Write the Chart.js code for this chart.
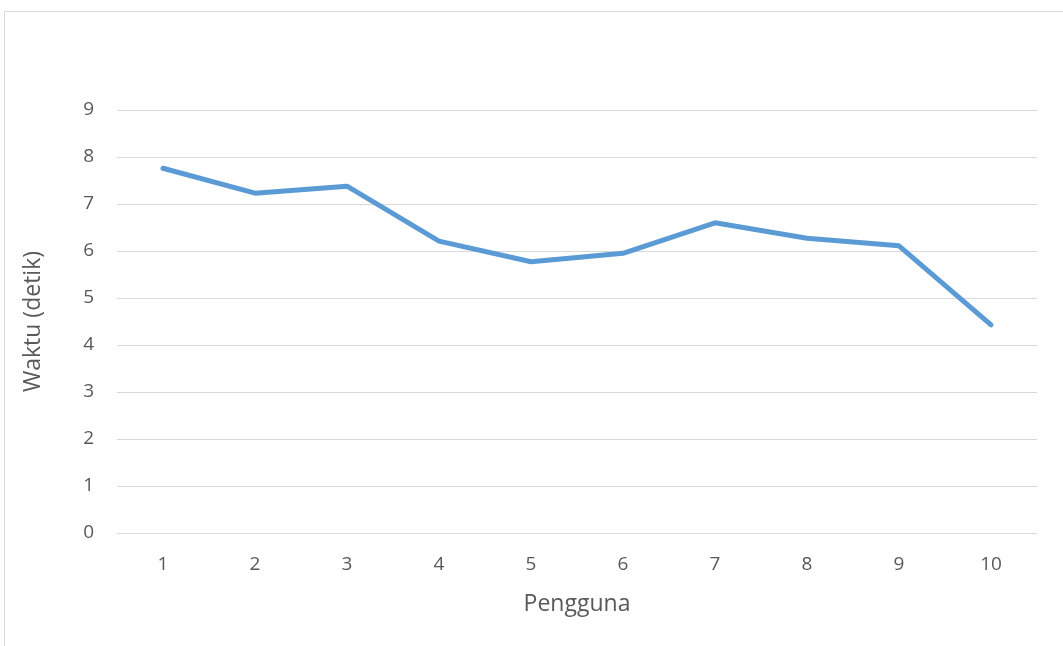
<!DOCTYPE html>
<html>
<head>
<meta charset="utf-8">
<script src="https://cdn.jsdelivr.net/npm/chart.js@4/dist/chart.umd.min.js"></script>
<style>
  html, body { margin: 0; padding: 0; background: #fff; }
  #chart { display: block; }
</style>
</head>
<body>
<canvas id="chart" width="1063" height="646"></canvas>
<script>
const categories = ["1", "2", "3", "4", "5", "6", "7", "8", "9", "10"];
const waktu = [7.76, 7.23, 7.38, 6.21, 5.77, 5.95, 6.60, 6.27, 6.11, 4.43];
const yTicks = [0, 1, 2, 3, 4, 5, 6, 7, 8, 9];

const textColor = "#595959";
const gridColor = "#d9d9d9";
const fontFamily = "'Open Sans', 'Noto Sans', sans-serif";

// outer chart frame, like the Excel chart area border
const frame = {
  id: "frame",
  beforeDraw(chart) {
    const ctx = chart.ctx;
    ctx.save();
    ctx.fillStyle = "#fff";
    ctx.fillRect(0, 0, chart.width, chart.height);
    ctx.strokeStyle = gridColor;
    ctx.lineWidth = 1;
    ctx.strokeRect(4.5, 11.5, chart.width + 20, chart.height + 20);
    ctx.restore();
  },
};

const ctx = document.getElementById("chart").getContext("2d");

new Chart(ctx, {
  type: "line",
  data: {
    labels: categories,
    datasets: [
      {
        label: "Waktu",
        data: waktu,
        borderColor: "#5b9bd5",
        backgroundColor: "#5b9bd5",
        borderWidth: 5,
        borderCapStyle: "round",
        borderJoinStyle: "round",
        pointRadius: 0,
        tension: 0,
      },
    ],
  },
  options: {
    responsive: false,
    animation: false,
    layout: { padding: { top: 110, right: 26, left: 0, bottom: 0 } },
    plugins: {
      legend: { display: false },
      tooltip: { enabled: false },
    },
    scales: {
      x: {
        offset: true,
        grid: { display: false },
        border: { display: false },
        ticks: {
          autoSkip: false,
          maxRotation: 0,
          padding: 12,
          color: textColor,
          font: { family: fontFamily, size: 19 },
        },
        title: {
          display: true,
          text: "Pengguna",
          color: textColor,
          padding: { top: 0, bottom: 28 },
          font: { family: fontFamily, size: 23 },
        },
        afterFit: (scale) => {
          scale.height = 113;
        },
      },
      y: {
        min: 0,
        max: 9,
        afterBuildTicks: (scale) => {
          scale.ticks = yTicks.map((v) => ({ value: v }));
        },
        grid: { color: gridColor, lineWidth: 1, drawTicks: false },
        border: { display: false },
        ticks: {
          padding: 23,
          color: textColor,
          font: { family: fontFamily, size: 19 },
        },
        title: {
          display: true,
          text: "Waktu (detik)",
          color: textColor,
          padding: { top: 20, bottom: 0 },
          font: { family: fontFamily, size: 23 },
        },
        afterFit: (scale) => {
          scale.width = 117;
        },
      },
    },
  },
  plugins: [frame],
});
</script>
</body>
</html>
